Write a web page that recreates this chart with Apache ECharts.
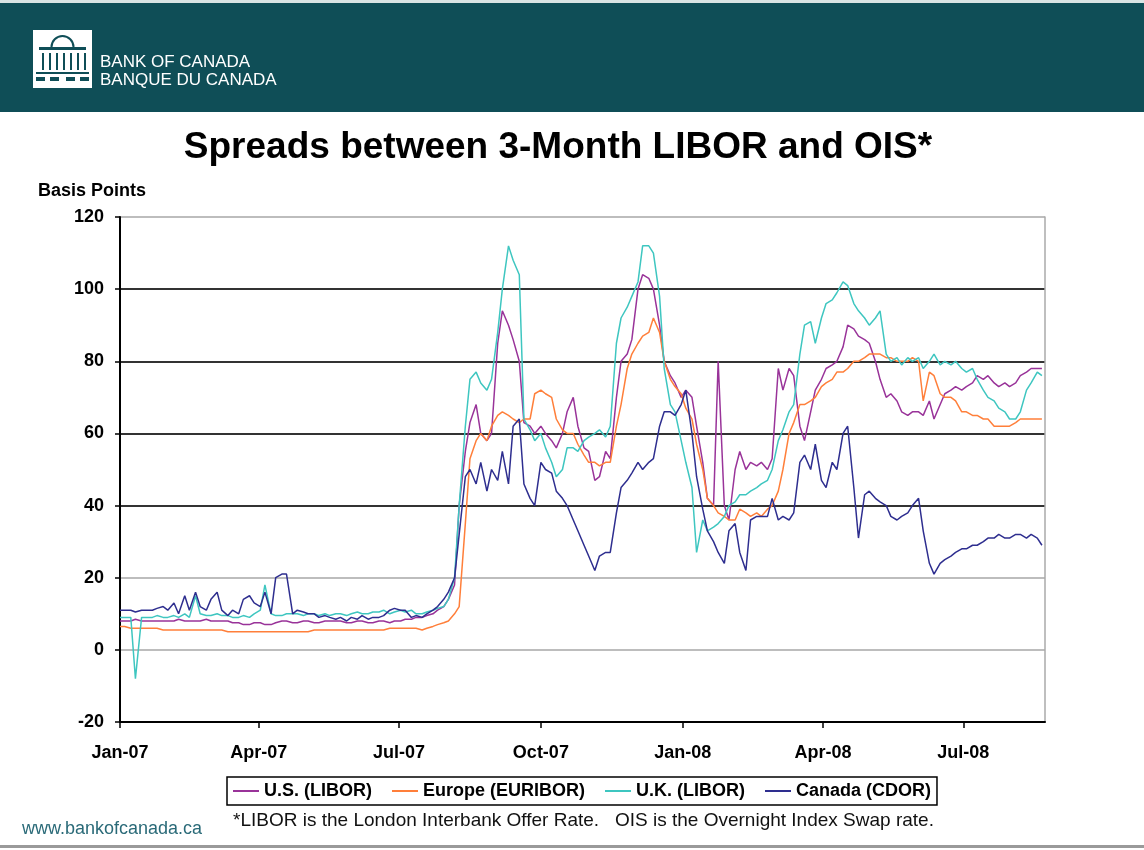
<!DOCTYPE html>
<html>
<head>
<meta charset="utf-8">
<title>Spreads between 3-Month LIBOR and OIS</title>
<script src="https://cdn.jsdelivr.net/npm/echarts@6/dist/echarts.min.js"></script>
<style>
  html, body { margin: 0; padding: 0; background: #fff; }
  #main { width: 1144px; height: 850px; }
</style>
</head>
<body>
<div id="main"></div>
<script>
var dates = [
  '2007-01-01','2007-01-04','2007-01-08','2007-01-11','2007-01-15','2007-01-18','2007-01-22','2007-01-25','2007-01-29','2007-02-01',
  '2007-02-05','2007-02-08','2007-02-12','2007-02-15','2007-02-19','2007-02-22','2007-02-26','2007-03-01','2007-03-05','2007-03-08',
  '2007-03-12','2007-03-15','2007-03-19','2007-03-22','2007-03-26','2007-03-29','2007-04-02','2007-04-05','2007-04-09','2007-04-12',
  '2007-04-16','2007-04-19','2007-04-23','2007-04-26','2007-04-30','2007-05-03','2007-05-07','2007-05-10','2007-05-14','2007-05-17',
  '2007-05-21','2007-05-24','2007-05-28','2007-05-31','2007-06-04','2007-06-07','2007-06-11','2007-06-14','2007-06-18','2007-06-21',
  '2007-06-25','2007-06-28','2007-07-02','2007-07-05','2007-07-09','2007-07-12','2007-07-16','2007-07-19','2007-07-23','2007-07-26',
  '2007-07-30','2007-08-02','2007-08-06','2007-08-09','2007-08-13','2007-08-16','2007-08-20','2007-08-23','2007-08-27','2007-08-30',
  '2007-09-03','2007-09-06','2007-09-10','2007-09-13','2007-09-17','2007-09-20','2007-09-24','2007-09-27','2007-10-01','2007-10-04',
  '2007-10-08','2007-10-11','2007-10-15','2007-10-18','2007-10-22','2007-10-25','2007-10-29','2007-11-01','2007-11-05','2007-11-08',
  '2007-11-12','2007-11-15','2007-11-19','2007-11-22','2007-11-26','2007-11-29','2007-12-03','2007-12-06','2007-12-10','2007-12-13',
  '2007-12-17','2007-12-20','2007-12-24','2007-12-27','2007-12-31','2008-01-03','2008-01-07','2008-01-10','2008-01-14','2008-01-17',
  '2008-01-21','2008-01-24','2008-01-28','2008-01-31','2008-02-04','2008-02-07','2008-02-11','2008-02-14','2008-02-18','2008-02-21',
  '2008-02-25','2008-02-28','2008-03-03','2008-03-06','2008-03-10','2008-03-13','2008-03-17','2008-03-20','2008-03-24','2008-03-27',
  '2008-03-31','2008-04-03','2008-04-07','2008-04-10','2008-04-14','2008-04-17','2008-04-21','2008-04-24','2008-04-28','2008-05-01',
  '2008-05-05','2008-05-08','2008-05-12','2008-05-15','2008-05-19','2008-05-22','2008-05-26','2008-05-29','2008-06-02','2008-06-05',
  '2008-06-09','2008-06-12','2008-06-16','2008-06-19','2008-06-23','2008-06-26','2008-06-30','2008-07-03','2008-07-07','2008-07-10',
  '2008-07-14','2008-07-17','2008-07-21','2008-07-24','2008-07-28','2008-07-31','2008-08-04','2008-08-07','2008-08-11','2008-08-14',
  '2008-08-18','2008-08-21'
];

var usLibor = [
  8, 8, 8, 8.5, 8, 8, 8, 8, 8, 8,
  8, 8.5, 8, 8, 8, 8, 8.5, 8, 8, 8,
  8, 7.5, 7.5, 7, 7, 7.5, 7.5, 7, 7, 7.5,
  8, 8, 7.5, 7.5, 8, 8, 7.5, 7.5, 8, 8,
  8, 8, 7.5, 7.5, 8, 8, 7.5, 7.5, 8, 8,
  7.5, 8, 8, 8.5, 8.5, 9, 9, 9.5, 10, 11,
  12, 14, 18, 40, 55, 63, 68, 60, 58, 60,
  85, 94, 90, 86, 80, 63, 62, 60, 62, 60,
  58, 56, 60, 66, 70, 62, 56, 55, 47, 48,
  55, 53, 70, 80, 82, 86, 100, 104, 103, 100,
  90, 80, 76, 74, 70, 72, 70, 62, 52, 42,
  40, 80, 40, 36, 50, 55, 50, 52, 51, 52,
  50, 53, 78, 72, 78, 76, 62, 58, 66, 72,
  75, 78, 79, 80, 84, 90, 89, 87, 86, 85,
  80, 75, 70, 71, 69, 66, 65, 66, 66, 65,
  69, 64, 68, 71, 72, 73, 72, 73, 74, 76,
  75, 76, 74, 73, 74, 73, 74, 76, 77, 78,
  78, 78
];

var europe = [
  6.5, 6.5, 6, 6, 6, 6, 6, 6, 5.5, 5.5,
  5.5, 5.5, 5.5, 5.5, 5.5, 5.5, 5.5, 5.5, 5.5, 5.5,
  5, 5, 5, 5, 5, 5, 5, 5, 5, 5,
  5, 5, 5, 5, 5, 5, 5.5, 5.5, 5.5, 5.5,
  5.5, 5.5, 5.5, 5.5, 5.5, 5.5, 5.5, 5.5, 5.5, 5.5,
  6, 6, 6, 6, 6, 6, 5.5, 6, 6.5, 7,
  7.5, 8, 10, 12, 35, 53, 58, 60, 58, 62,
  65, 66, 65, 64, 63, 64, 64, 71, 72, 71,
  70, 64, 61, 60, 60, 57, 54, 52, 52, 51,
  52, 52, 62, 68, 78, 82, 85, 87, 88, 92,
  88, 80, 75, 73, 71, 67, 64, 57, 50, 42,
  40, 38, 37, 36, 36, 39, 38, 37, 38, 37,
  39, 40, 44, 50, 60, 63, 68, 68, 69, 70,
  73, 74, 75, 77, 77, 78, 80, 80, 81, 82,
  82, 82, 81, 81, 80, 80, 80, 81, 80, 69,
  77, 76, 71, 70, 70, 69, 66, 66, 65, 65,
  64, 64, 62, 62, 62, 62, 63, 64, 64, 64,
  64, 64
];

var ukLibor = [
  9, 9, 9, -8, 9, 9, 9, 9.5, 9, 9,
  9.5, 9, 10, 9, 15, 10, 9.5, 9.5, 10, 9.5,
  9.5, 9, 9, 9.5, 9, 10, 11, 18, 10, 9.5,
  9.5, 10, 10, 10, 9.5, 10, 10, 9.5, 10, 9.5,
  10, 10, 9.5, 10, 10.5, 10, 10, 10.5, 10.5, 11,
  10, 10.5, 11, 10.5, 11, 10, 10, 10.5, 11, 11.5,
  12, 14, 20, 40, 62, 75, 77, 74, 72, 75,
  88, 100, 112, 108, 104, 64, 61, 58, 60, 56,
  52, 48, 50, 56, 56, 55, 58, 59, 60, 61,
  59, 62, 85, 92, 95, 98, 102, 112, 112, 110,
  98, 78, 68, 66, 58, 52, 45, 27, 36, 33,
  34, 35, 37, 40, 41, 43, 43, 44, 45, 46,
  47, 50, 58, 61, 66, 68, 82, 90, 91, 85,
  92, 96, 97, 99, 102, 101, 96, 94, 92, 90,
  92, 94, 82, 80, 81, 79, 81, 80, 81, 78,
  80, 82, 79, 80, 79, 80, 78, 77, 78, 75,
  72, 70, 69, 67, 66, 64, 64, 66, 72, 74,
  77, 76
];

var canada = [
  11, 11, 11, 10.5, 11, 11, 11, 11.5, 12, 11,
  13, 10, 15, 11, 16, 12, 11, 14, 16, 11,
  9.5, 11, 10, 14, 15, 13, 12, 16, 10, 20,
  21, 21, 10, 11, 10.5, 10, 10, 9, 9.5, 9,
  8.5, 9, 8, 9, 8.5, 9.5, 8.5, 9, 9, 9.5,
  11, 11.5, 11, 11, 9, 9.5, 9, 10, 11, 12,
  14, 16, 20, 32, 48, 50, 46, 52, 44, 50,
  47, 55, 46, 62, 64, 46, 42, 40, 52, 50,
  49, 44, 42, 40, 36, 33, 29, 26, 22, 26,
  27, 27, 38, 45, 47, 49, 52, 50, 52, 53,
  62, 66, 66, 65, 68, 72, 60, 48, 39, 33,
  30, 27, 24, 33, 35, 27, 22, 36, 37, 37,
  37, 42, 36, 37, 36, 38, 52, 54, 50, 57,
  47, 45, 52, 50, 60, 62, 45, 31, 43, 44,
  42, 41, 40, 37, 36, 37, 38, 40, 42, 33,
  24, 21, 24, 25, 26, 27, 28, 28, 29, 29,
  30, 31, 31, 32, 31, 31, 32, 32, 31, 32,
  31, 29
];

var seriesNames = ['U.S. (LIBOR)', 'Europe (EURIBOR)', 'U.K. (LIBOR)', 'Canada (CDOR)'];
var seriesColors = ['#993399', '#ff7f3a', '#3ec6c0', '#2e2e8f'];

var tickDates = ['2007-01-01', '2007-04-01', '2007-07-01', '2007-10-01', '2008-01-01', '2008-04-01', '2008-07-01'];
var tickLabels = ['Jan-07', 'Apr-07', 'Jul-07', 'Oct-07', 'Jan-08', 'Apr-08', 'Jul-08'];

function toTime(s) {
  var p = s.split('-');
  return Date.UTC(+p[0], +p[1] - 1, +p[2]);
}

function pairs(values) {
  var data = [];
  for (var i = 0; i < dates.length; i++) {
    data.push([toTime(dates[i]), values[i]]);
  }
  return data;
}

var tickTimes = tickDates.map(toTime);
var teal = '#0f4e57';
var font = 'Liberation Sans, Arial, sans-serif';

var myChart = echarts.init(document.getElementById('main'));

myChart.setOption({
  animation: false,
  backgroundColor: '#fff',
  color: seriesColors,
  grid: { left: 120, right: 99, top: 217, bottom: 128 },
  legend: {
    data: seriesNames,
    left: 227,
    top: 777,
    orient: 'horizontal',
    icon: 'rect',
    itemWidth: 26,
    itemHeight: 2,
    itemGap: 20,
    padding: [5, 6, 5, 6],
    borderColor: '#000',
    borderWidth: 1.5,
    borderRadius: 0,
    textStyle: { fontFamily: font, fontSize: 18, fontWeight: 'bold', color: '#000' }
  },
  // dates as UTC timestamps on a value axis so the quarter ticks can be placed exactly
  xAxis: {
    type: 'value',
    min: toTime('2007-01-01'),
    max: toTime('2008-08-23'),
    axisLine: { onZero: false, lineStyle: { color: '#000', width: 2 } },
    axisTick: { length: 6, lineStyle: { color: '#000', width: 1.5 }, customValues: tickTimes },
    axisLabel: {
      customValues: tickTimes,
      margin: 22,
      fontFamily: font,
      fontSize: 18,
      fontWeight: 'bold',
      color: '#000',
      formatter: function (v) {
        var i = tickTimes.indexOf(v);
        return i >= 0 ? tickLabels[i] : '';
      }
    },
    splitLine: { show: false }
  },
  yAxis: [{
    type: 'value',
    min: -20,
    max: 120,
    interval: 20,
    axisLine: { show: true, lineStyle: { color: '#000', width: 2 } },
    axisTick: { show: true, length: 5, lineStyle: { color: '#000', width: 1.5 } },
    axisLabel: { margin: 16, fontFamily: font, fontSize: 18, fontWeight: 'bold', color: '#000' },
    splitLine: {
      show: true,
      lineStyle: {
        width: 2,
        color: ['#bdbdbd', '#bdbdbd', '#bdbdbd', '#333', '#333', '#333', '#333', '#bdbdbd']
      }
    }
  }, {
    type: 'value',
    position: 'right',
    min: -20,
    max: 120,
    interval: 20,
    axisLine: { show: true, lineStyle: { color: '#aaa', width: 1.5 } },
    axisTick: { show: false },
    axisLabel: { show: false },
    splitLine: { show: false }
  }],
  series: [usLibor, europe, ukLibor, canada].map(function (vals, i) {
    return {
      name: seriesNames[i],
      type: 'line',
      data: pairs(vals),
      showSymbol: false,
      symbol: 'none',
      lineStyle: { width: 1.5 },
      z: 2 + i
    };
  }),
  graphic: [
    // header band
    { type: 'rect', left: 0, top: 0, shape: { x: 0, y: 0, width: 1144, height: 112 }, style: { fill: teal } },
    { type: 'rect', left: 0, top: 0, shape: { x: 0, y: 0, width: 1144, height: 3 }, style: { fill: '#d9e4e4' } },
    // logo
    {
      type: 'group', x: 33, y: 30,
      children: [
        { type: 'rect', shape: { x: 0, y: 0, width: 59, height: 58 }, style: { fill: '#fff' } },
        { type: 'arc', shape: { cx: 29.5, cy: 17, r: 11, startAngle: Math.PI, endAngle: 2 * Math.PI }, style: { stroke: teal, lineWidth: 2, fill: null } },
        { type: 'rect', shape: { x: 6, y: 17, width: 47, height: 3 }, style: { fill: teal } },
        { type: 'rect', shape: { x: 9, y: 23, width: 2, height: 17 }, style: { fill: teal } },
        { type: 'rect', shape: { x: 16, y: 23, width: 2, height: 17 }, style: { fill: teal } },
        { type: 'rect', shape: { x: 23, y: 23, width: 2, height: 17 }, style: { fill: teal } },
        { type: 'rect', shape: { x: 30, y: 23, width: 2, height: 17 }, style: { fill: teal } },
        { type: 'rect', shape: { x: 37, y: 23, width: 2, height: 17 }, style: { fill: teal } },
        { type: 'rect', shape: { x: 44, y: 23, width: 2, height: 17 }, style: { fill: teal } },
        { type: 'rect', shape: { x: 51, y: 23, width: 2, height: 17 }, style: { fill: teal } },
        { type: 'rect', shape: { x: 3, y: 42, width: 53, height: 2 }, style: { fill: teal } },
        { type: 'rect', shape: { x: 3, y: 47, width: 9, height: 4 }, style: { fill: teal } },
        { type: 'rect', shape: { x: 17, y: 47, width: 9, height: 4 }, style: { fill: teal } },
        { type: 'rect', shape: { x: 33, y: 47, width: 9, height: 4 }, style: { fill: teal } },
        { type: 'rect', shape: { x: 47, y: 47, width: 9, height: 4 }, style: { fill: teal } }
      ]
    },
    { type: 'text', x: 100, y: 62, style: { text: 'BANK OF CANADA', fill: '#fff', font: '17px ' + font, textVerticalAlign: 'middle' } },
    { type: 'text', x: 100, y: 80, style: { text: 'BANQUE DU CANADA', fill: '#fff', font: '17px ' + font, textVerticalAlign: 'middle' } },
    // title
    { type: 'text', x: 558, y: 148, style: { text: 'Spreads between 3-Month LIBOR and OIS*', fill: '#000', font: 'bold 37px ' + font, textAlign: 'center', textVerticalAlign: 'middle' } },
    { type: 'text', x: 38, y: 191, style: { text: 'Basis Points', fill: '#000', font: 'bold 18px ' + font, textVerticalAlign: 'middle' } },
    // footer
    { type: 'text', x: 233, y: 821, style: { text: '*LIBOR is the London Interbank Offer Rate.   OIS is the Overnight Index Swap rate.', fill: '#111', font: '19px ' + font, textVerticalAlign: 'middle' } },
    { type: 'text', x: 22, y: 829, style: { text: 'www.bankofcanada.ca', fill: '#2a6a78', font: '18px ' + font, textVerticalAlign: 'middle' } },
    { type: 'rect', left: 0, top: 845, shape: { x: 0, y: 0, width: 1144, height: 3 }, style: { fill: '#9a9a9a' } }
  ]
});

window.addEventListener('resize', function () {
  myChart.resize();
});
</script>
</body>
</html>
